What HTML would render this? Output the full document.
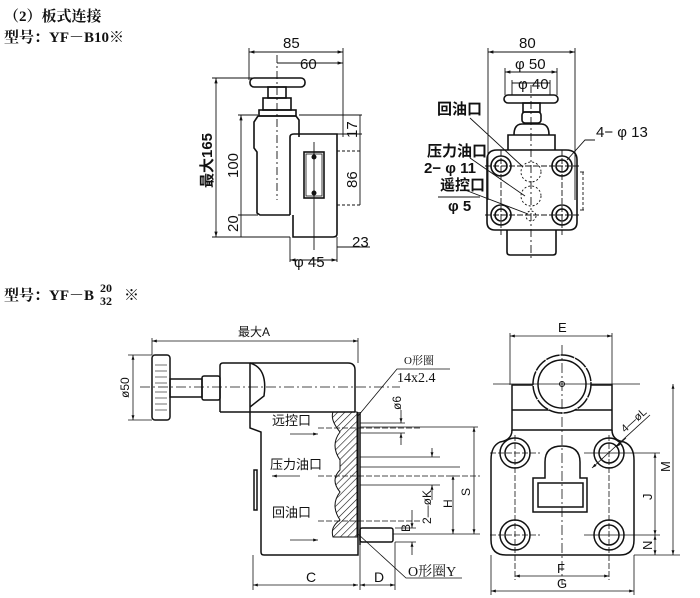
<!DOCTYPE html>
<html><head><meta charset="utf-8"><style>
html,body{margin:0;padding:0;background:#fff;}
svg{display:block;}
.t{font-family:"Liberation Sans","Noto Sans CJK SC",sans-serif;fill:#111;}
.s{font-family:"Liberation Serif","Noto Serif CJK SC",serif;fill:#111;font-weight:bold;}
</style></head><body>
<svg width="700" height="598" viewBox="0 0 700 598" xmlns="http://www.w3.org/2000/svg">
<defs>
<marker id="a" viewBox="0 0 10 10" refX="10" refY="5" markerWidth="6" markerHeight="6" orient="auto-start-reverse"><path d="M0,2 L10,5 L0,8z" fill="#111"/></marker>
<pattern id="h" width="5" height="5" patternUnits="userSpaceOnUse" patternTransform="rotate(45)"><line x1="0" y1="0" x2="0" y2="5" stroke="#111" stroke-width="1.2"/></pattern>
</defs>
<g class="s" font-size="15">
<text x="4" y="21">（2）板式连接</text>
<text x="4" y="42">型号：YF－B10※</text>
<text x="4" y="300">型号：YF－B</text>
<text x="100" y="292" font-size="12">20</text>
<text x="100" y="305" font-size="12">32</text>
<text x="124" y="300">※</text>
</g>

<!-- TOP LEFT VIEW -->
<g fill="none" stroke="#111" stroke-width="1.6">
<rect x="250" y="78" width="55" height="9" rx="4"/>
<rect x="268" y="87" width="18" height="11"/>
<rect x="263" y="98" width="28" height="12"/>
<rect x="259" y="110" width="37" height="6"/>
<path d="M258,116 L296,116 L299,120 L299,137 M258,116 L254,122 L254,148 L257,152 L257,213 L260,215 L290,215"/>
<path d="M290,215 L290,137 Q290,134 294,134 L337,134 L337,234 Q337,237 333,237 L293,237 L293,215"/>
<rect x="304" y="152" width="20" height="46"/>
<rect x="306" y="154" width="16" height="42" stroke-width="0.8"/>
</g>
<g stroke="#111" stroke-width="0.9" fill="none">
<line x1="277" y1="55" x2="277" y2="200" stroke-dasharray="8,3,2,3"/>
<line x1="314" y1="142" x2="314" y2="250"/>
<line x1="249" y1="48" x2="249" y2="80"/><line x1="343" y1="48" x2="343" y2="137"/>
<line x1="249" y1="52" x2="343" y2="52" marker-start="url(#a)" marker-end="url(#a)"/>
<line x1="277" y1="63" x2="343" y2="63" marker-end="url(#a)"/>
<line x1="212" y1="78" x2="277" y2="78"/><line x1="212" y1="237" x2="290" y2="237"/>
<line x1="216" y1="78" x2="216" y2="237" marker-start="url(#a)" marker-end="url(#a)"/>
<line x1="238" y1="115" x2="258" y2="115"/><line x1="238" y1="215" x2="258" y2="215"/>
<line x1="241" y1="115" x2="241" y2="237" marker-start="url(#a)"/>
<line x1="299" y1="115" x2="362" y2="115"/><line x1="337" y1="134" x2="362" y2="134"/>
<line x1="337" y1="151" x2="362" y2="151" stroke-dasharray="3,2"/><line x1="337" y1="205" x2="362" y2="205" stroke-dasharray="3,2"/>
<line x1="360" y1="115" x2="360" y2="205"/>
<line x1="337" y1="247" x2="370" y2="247"/>
<line x1="290" y1="237" x2="290" y2="262"/><line x1="337" y1="237" x2="337" y2="262"/>
<line x1="290" y1="260" x2="337" y2="260" marker-start="url(#a)" marker-end="url(#a)"/>
</g>
<circle cx="314" cy="157" r="2.5" fill="#111"/><circle cx="314" cy="193" r="2.5" fill="#111"/>
<g class="t" font-size="15">
<text x="283" y="48">85</text>
<text x="300" y="69">60</text>
<text x="352" y="247">23</text>
<text x="294" y="267">φ 45</text>
<text transform="translate(212,188) rotate(-90)" font-weight="bold">最大165</text>
<text transform="translate(238,178) rotate(-90)">100</text>
<text transform="translate(238,232) rotate(-90)">20</text>
<text transform="translate(357,138) rotate(-90)">17</text>
<text transform="translate(357,188) rotate(-90)">86</text>
</g>

<!-- TOP RIGHT VIEW -->
<g fill="none" stroke="#111" stroke-width="1.6">
<rect x="504" y="95" width="54" height="8" rx="4"/>
<rect x="523" y="103" width="17" height="9"/>
<rect x="522" y="112" width="19" height="11" rx="3"/>
<path d="M514,135 Q514,124 522,124 L541,124 Q549,124 549,135"/>
<path d="M508,150 L508,135 L555,135 L555,150"/>
<path d="M497,150 L566,150 Q577,150 577,160 L577,222 Q577,230 569,230 L495,230 Q487,230 487,222 L487,160 Q487,150 497,150z"/>
<path d="M507,230 L507,252 Q507,255 510,255 L553,255 Q556,255 556,252 L556,230"/>
<circle cx="501" cy="166" r="10"/><circle cx="501" cy="166" r="6"/>
<circle cx="562" cy="166" r="10"/><circle cx="562" cy="166" r="6"/>
<circle cx="501" cy="215" r="10"/><circle cx="501" cy="215" r="6"/>
<circle cx="562" cy="215" r="10"/><circle cx="562" cy="215" r="6"/>
</g>
<g fill="none" stroke="#111" stroke-width="0.9" stroke-dasharray="2,2">
<circle cx="531" cy="172" r="10"/><circle cx="531" cy="196" r="10"/><circle cx="531" cy="216" r="5"/>
</g>
<g stroke="#111" stroke-width="0.9" fill="none">
<line x1="531" y1="85" x2="531" y2="260" stroke-dasharray="8,3,2,3"/>
<line x1="488" y1="48" x2="488" y2="200"/><line x1="575" y1="48" x2="575" y2="200"/>
<line x1="488" y1="52" x2="575" y2="52" marker-start="url(#a)" marker-end="url(#a)"/>
<line x1="505" y1="68" x2="505" y2="95"/><line x1="557" y1="68" x2="557" y2="95"/>
<line x1="505" y1="72" x2="557" y2="72" marker-start="url(#a)" marker-end="url(#a)"/>
<line x1="512" y1="80" x2="512" y2="95"/><line x1="550" y1="80" x2="550" y2="95"/>
<line x1="512" y1="83" x2="550" y2="83"/>
<line x1="485" y1="166" x2="580" y2="166" stroke-dasharray="6,2"/><line x1="485" y1="215" x2="580" y2="215" stroke-dasharray="6,2"/>
<line x1="501" y1="150" x2="501" y2="235" stroke-dasharray="6,2"/><line x1="562" y1="150" x2="562" y2="235" stroke-dasharray="6,2"/>
<line x1="580" y1="172" x2="584" y2="172"/><line x1="580" y1="210" x2="584" y2="210"/><line x1="583" y1="172" x2="583" y2="210" stroke-dasharray="3,2"/>
<path d="M470,118 L522,166"/><path d="M470,158 L525,196"/><path d="M465,190 L528,214"/><path d="M567,160 L585,140 L595,140"/>
<line x1="438" y1="197" x2="480" y2="197"/>
</g>
<g class="t" font-size="15">
<text x="519" y="48">80</text>
<text x="515" y="69">φ 50</text>
<text x="518" y="89">φ 40</text>
<text x="596" y="137">4− φ 13</text>
<g font-weight="bold">
<text x="437" y="114">回油口</text>
<text x="427" y="156">压力油口</text>
<text x="424" y="173">2− φ 11</text>
<text x="440" y="190">遥控口</text>
<text x="448" y="211">φ 5</text>
</g>
</g>

<!-- BOTTOM LEFT VIEW -->
<g fill="none" stroke="#111" stroke-width="1.5">
<rect x="152" y="355" width="18" height="65" rx="3"/>
<rect x="170" y="379" width="32" height="18"/>
<rect x="202" y="376" width="18" height="24" rx="2"/>
<path d="M220,412 L220,366 Q220,363 223,363 L348,363 Q355,363 355,370 L355,412"/>
<path d="M250,363 L250,412"/>
<path d="M250,363 Q268,368 264,396 L250,407"/>
<path d="M220,412 L355,412"/>
<path d="M250,412 L250,428 L261,432 L261,552 Q261,555 264,555 L358,555 L358,412"/>
<path d="M254,470 L254,510 L257,510 L257,470z"/>
</g>
<path d="M333,412 L357,412 L357,537 L333,537 Q330,527 340,520 Q330,505 340,492 Q330,480 340,470 L340,460 Q330,445 340,432 Q330,420 333,412z" fill="url(#h)" stroke="#111" stroke-width="1"/>
<g stroke="#111" stroke-width="0.6">
<line x1="155" y1="365" x2="167" y2="365"/><line x1="155" y1="371" x2="167" y2="371"/><line x1="155" y1="377" x2="167" y2="377"/><line x1="155" y1="383" x2="167" y2="383"/><line x1="155" y1="392" x2="167" y2="392"/><line x1="155" y1="398" x2="167" y2="398"/><line x1="155" y1="404" x2="167" y2="404"/><line x1="155" y1="410" x2="167" y2="410"/>
</g>
<g fill="none" stroke="#111" stroke-width="1.5">
<line x1="360" y1="412" x2="360" y2="545"/>
<rect x="360" y="528" width="33" height="14" rx="2"/>
</g>
<g stroke="#111" stroke-width="0.8" fill="none">
<line x1="140" y1="387" x2="400" y2="387" stroke-dasharray="10,3,2,3"/>
<line x1="152" y1="338" x2="152" y2="355"/><line x1="358" y1="338" x2="358" y2="363"/>
<line x1="152" y1="341" x2="358" y2="341" marker-start="url(#a)" marker-end="url(#a)"/>
<line x1="128" y1="355" x2="152" y2="355"/><line x1="128" y1="420" x2="152" y2="420"/>
<line x1="133" y1="355" x2="133" y2="420" marker-start="url(#a)" marker-end="url(#a)"/>
<line x1="318" y1="428" x2="420" y2="428" stroke-dasharray="6,2"/>
<line x1="318" y1="476" x2="480" y2="476" stroke-dasharray="6,2"/>
<line x1="318" y1="521" x2="420" y2="521" stroke-dasharray="6,2"/>
<line x1="290" y1="434" x2="318" y2="434" marker-end="url(#a)"/>
<line x1="300" y1="476" x2="272" y2="476" marker-end="url(#a)"/>
<line x1="290" y1="540" x2="318" y2="540" marker-end="url(#a)"/>
<line x1="360" y1="423" x2="405" y2="423"/><line x1="360" y1="433" x2="405" y2="433"/>
<line x1="401" y1="410" x2="401" y2="423" marker-end="url(#a)"/><line x1="401" y1="445" x2="401" y2="433" marker-end="url(#a)"/>
<line x1="360" y1="427" x2="478" y2="427"/>
<line x1="360" y1="457" x2="440" y2="457"/><line x1="360" y1="485" x2="440" y2="485"/><line x1="360" y1="467" x2="460" y2="467"/>
<line x1="432" y1="448" x2="432" y2="457" marker-end="url(#a)"/><line x1="432" y1="500" x2="432" y2="485" marker-end="url(#a)"/>
<line x1="393" y1="534" x2="480" y2="534"/>
<line x1="474" y1="427" x2="474" y2="534" marker-start="url(#a)" marker-end="url(#a)"/>
<line x1="453" y1="475" x2="453" y2="534" marker-start="url(#a)" marker-end="url(#a)"/>
<line x1="395" y1="528" x2="416" y2="528"/><line x1="395" y1="542" x2="416" y2="542"/>
<line x1="412" y1="510" x2="412" y2="528" marker-end="url(#a)"/><line x1="412" y1="555" x2="412" y2="542" marker-end="url(#a)"/>
<line x1="253" y1="555" x2="253" y2="590"/><line x1="360" y1="545" x2="360" y2="590"/><line x1="395" y1="542" x2="395" y2="590"/>
<line x1="253" y1="585" x2="358" y2="585" marker-start="url(#a)" marker-end="url(#a)"/>
<line x1="360" y1="585" x2="395" y2="585" marker-start="url(#a)" marker-end="url(#a)"/>
<path d="M358,416 L397,369 L450,369"/>
<path d="M358,534 L406,578 L462,578"/>
</g>
<g class="t" font-size="12">
<text x="238" y="336">最大A</text>
<text transform="translate(129,398) rotate(-90)">ø50</text>
<text x="272" y="425" font-size="13">远控口</text>
<text x="270" y="469" font-size="13">压力油口</text>
<text x="272" y="517" font-size="13">回油口</text>
<text transform="translate(401,410) rotate(-90)">ø6</text>
<text transform="translate(431,524) rotate(-90)">2—øK</text>
<text transform="translate(410,532) rotate(-90)">B</text>
<text transform="translate(452,508) rotate(-90)">H</text>
<text transform="translate(470,496) rotate(-90)">S</text>
<text x="306" y="582" font-size="14">C</text>
<text x="374" y="582" font-size="14">D</text>
</g>
<g class="s">
<text x="404" y="364" font-size="11" font-weight="normal">O形圈</text>
<text x="397" y="382" font-size="14" font-weight="normal">14x2.4</text>
<text x="408" y="576" font-size="14" font-weight="normal">O形圈Y</text>
</g>

<!-- BOTTOM RIGHT VIEW -->
<g fill="none" stroke="#111" stroke-width="1.5">
<path d="M512,385 L612,385 L612,430 L512,430z"/>
<line x1="512" y1="410" x2="612" y2="410"/>
<path d="M512,430 Q512,440 500,442 Q491,446 491,460 L491,540 Q491,555 506,555 L620,555 Q634,555 634,540 L634,460 Q634,446 624,442 Q612,440 612,430"/>
<circle cx="562" cy="384" r="29" fill="#fff" stroke-dasharray="14,1"/>
<circle cx="562" cy="384" r="24"/>
<circle cx="515" cy="453" r="15"/><circle cx="515" cy="453" r="10"/>
<circle cx="609" cy="453" r="15"/><circle cx="609" cy="453" r="10"/>
<circle cx="515" cy="535" r="15"/><circle cx="515" cy="535" r="10"/>
<circle cx="609" cy="535" r="15"/><circle cx="609" cy="535" r="10"/>
<path d="M545,478 L545,462 Q545,446 562,446 Q580,446 580,462 L580,478 L587,478 L587,512 L533,512 L533,478z"/>
<rect x="538" y="483" width="45" height="24"/>
</g>
<circle cx="562" cy="384" r="2.5" fill="none" stroke="#111"/>
<g stroke="#111" stroke-width="0.8" fill="none">
<line x1="562" y1="345" x2="562" y2="585" stroke-dasharray="10,3,2,3"/>
<line x1="493" y1="384" x2="640" y2="384"/>
<line x1="490" y1="453" x2="540" y2="453" stroke-dasharray="6,2"/><line x1="584" y1="453" x2="660" y2="453"/>
<line x1="490" y1="535" x2="540" y2="535" stroke-dasharray="6,2"/><line x1="584" y1="535" x2="660" y2="535"/>
<line x1="515" y1="435" x2="515" y2="580" stroke-dasharray="6,2"/><line x1="609" y1="435" x2="609" y2="580" stroke-dasharray="6,2"/>
<line x1="510" y1="333" x2="510" y2="385"/><line x1="612" y1="333" x2="612" y2="385"/>
<line x1="510" y1="336" x2="612" y2="336" marker-start="url(#a)" marker-end="url(#a)"/>
<line x1="634" y1="555" x2="680" y2="555"/>
<line x1="673" y1="384" x2="673" y2="555" marker-start="url(#a)" marker-end="url(#a)"/>
<line x1="655" y1="453" x2="655" y2="535" marker-start="url(#a)" marker-end="url(#a)"/>
<line x1="655" y1="535" x2="655" y2="555" marker-start="url(#a)" marker-end="url(#a)"/>
<line x1="515" y1="576" x2="609" y2="576" marker-start="url(#a)" marker-end="url(#a)"/>
<line x1="491" y1="555" x2="491" y2="595"/><line x1="634" y1="555" x2="634" y2="595"/>
<line x1="491" y1="591" x2="634" y2="591" marker-start="url(#a)" marker-end="url(#a)"/>
<line x1="592" y1="468" x2="650" y2="415" marker-start="url(#a)"/>
<line x1="626" y1="438" x2="616" y2="447" marker-end="url(#a)"/>
</g>
<g class="t" font-size="13">
<text x="558" y="332">E</text>
<text transform="translate(670,472) rotate(-90)">M</text>
<text transform="translate(652,500) rotate(-90)">J</text>
<text transform="translate(652,550) rotate(-90)">N</text>
<text x="557" y="573">F</text>
<text x="557" y="588">G</text>
<text transform="translate(625,433) rotate(-42)" font-size="11">4—øL</text>
</g>
</svg>
</body></html>
